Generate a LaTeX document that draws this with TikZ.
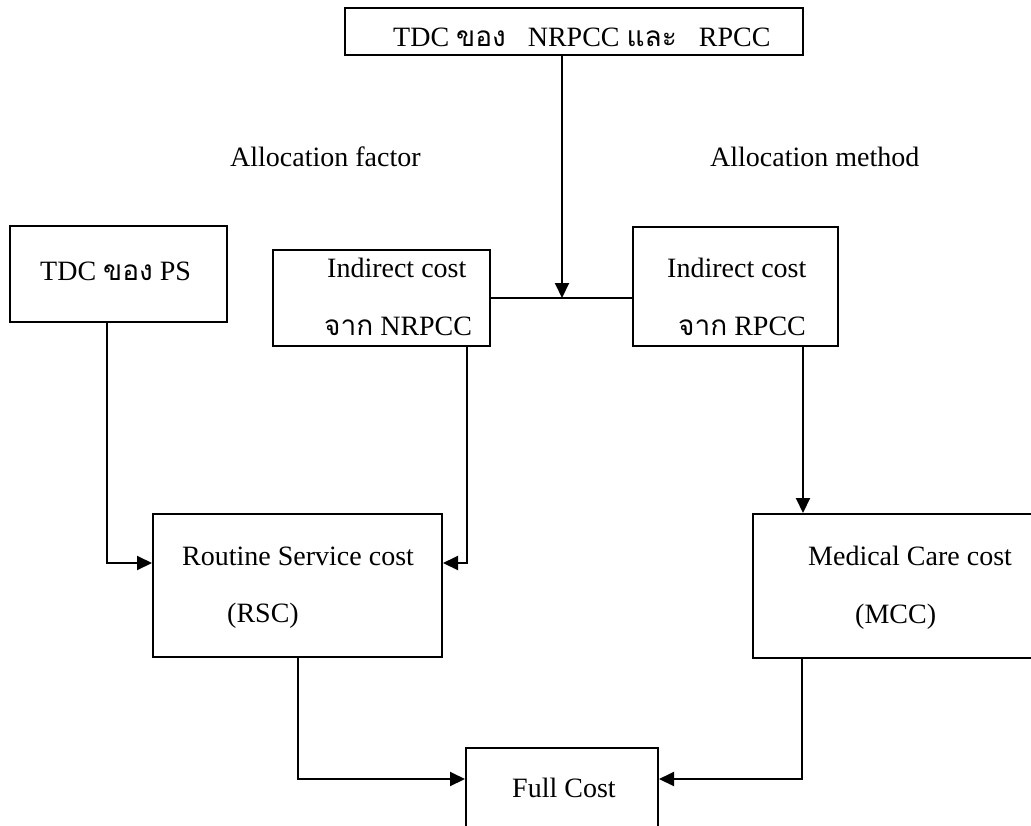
\documentclass[tikz,border=0pt]{standalone}
\usepackage{fontspec}
\setmainfont{Liberation Serif}
\newfontfamily\thai[Script=Thai]{Loma}
\usetikzlibrary{arrows.meta}
\begin{document}
\begin{tikzpicture}[x=1pt,y=-1pt,
  box/.style={draw, line width=2pt, inner sep=0pt},
  txt/.style={inner sep=0pt, anchor=base west, font=\fontsize{28}{34}\selectfont},
  ln/.style={line width=2pt},
  arr/.style={line width=2pt, -{Triangle[length=15pt,width=14pt]}}]
\clip (0,0) rectangle (1031,825);
% boxes
\node[box, minimum width=458pt, minimum height=47pt] (top) at (574,31.5) {};
\node[box, minimum width=217pt, minimum height=96pt] (ps) at (118.5,274) {};
\node[box, minimum width=217pt, minimum height=96pt] (nr) at (381.5,298) {};
\node[box, minimum width=205pt, minimum height=119pt] (rp) at (735.5,286.5) {};
\node[box, minimum width=289pt, minimum height=143pt] (rsc) at (297.5,585.5) {};
\node[box, minimum width=292pt, minimum height=144pt] (mcc) at (899,586) {};
\node[box, minimum width=192pt, minimum height=90pt] (full) at (562,793) {};
% texts
\node[txt] (tt) at (393,46) {TDC {\thai ของ}\hspace{22pt}NRPCC {\thai และ}\hspace{22pt}RPCC};
\node[txt] (tps) at (40,280) {TDC {\thai ของ} PS};
\node[txt] (nr1) at (327,277) {Indirect cost};
\node[txt] (nr2) at (324,335) {{\thai จาก} NRPCC};
\node[txt] (rp1) at (667,277) {Indirect cost};
\node[txt] (rp2) at (678,335) {{\thai จาก} RPCC};
\node[txt] (af) at (230,166) {Allocation factor};
\node[txt] (am) at (710,166) {Allocation method};
\node[txt] (r1) at (182,565) {Routine Service cost};
\node[txt] (r2) at (227,622) {(RSC)};
\node[txt] (m1) at (808,565) {Medical Care cost};
\node[txt] (m2) at (855,623) {(MCC)};
\node[txt] (fc) at (512,797) {Full Cost};
% connectors
\coordinate (tj) at ([xshift=-12pt]top.south);
\draw[arr] (tj) -- (tj |- nr.east);
\draw[ln] (nr.east) -- (nr.east -| rp.west);
\coordinate (psb) at ([xshift=-11.5pt]ps.south);
\coordinate (rscw) at ([yshift=22.5pt]rsc.west);
\draw[arr] (psb) |- (rscw);
\coordinate (nrb) at ([xshift=85.5pt]nr.south);
\coordinate (rsce) at ([yshift=22.5pt]rsc.east);
\draw[arr] (nrb) |- (rsce);
\coordinate (rpb) at ([xshift=67.5pt]rp.south);
\draw[arr] (rpb) -- (rpb |- mcc.north);
\coordinate (fw) at ([yshift=14pt]full.west);
\coordinate (fe) at ([yshift=14pt]full.east);
\draw[arr] (rsc.south) |- (fw);
\coordinate (mccb) at ([xshift=-97pt]mcc.south);
\draw[arr] (mccb) |- (fe);
\end{tikzpicture}
\end{document}
